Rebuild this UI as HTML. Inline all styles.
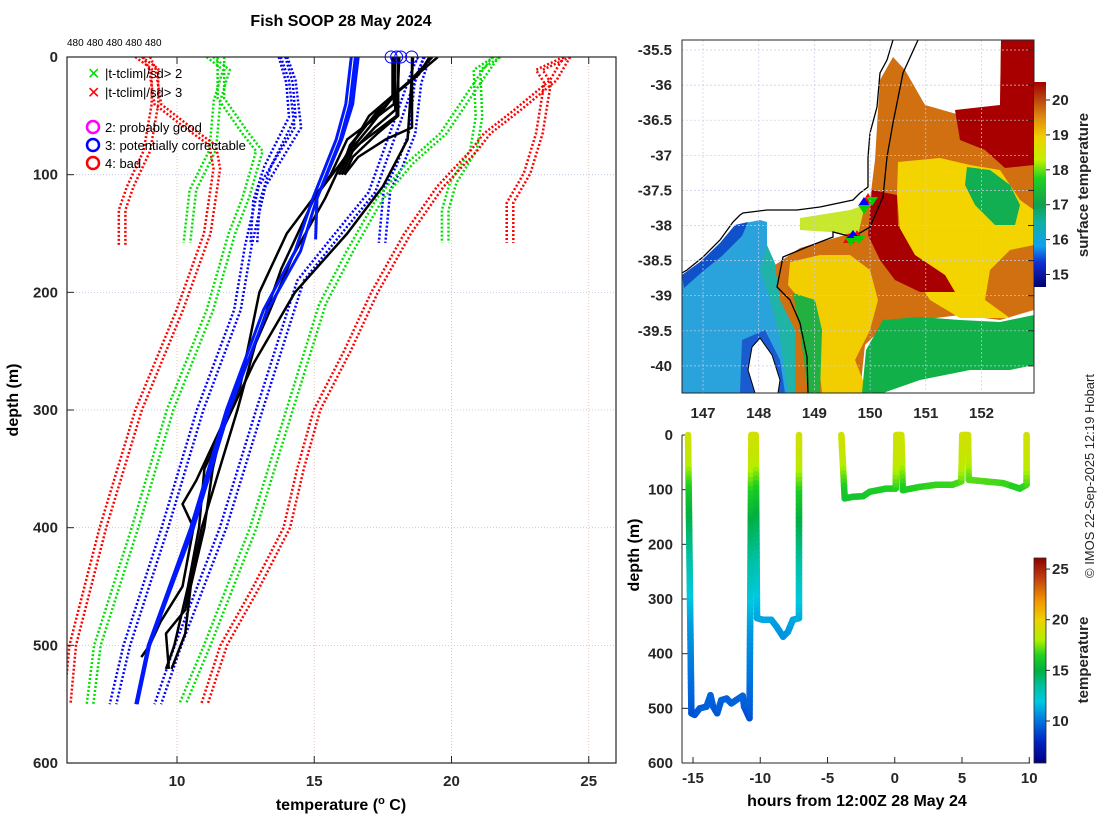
<!DOCTYPE html>
<html><head><meta charset="utf-8"><title>Fish SOOP 28 May 2024</title>
<style>
html,body{margin:0;padding:0;background:#fff;}
svg{display:block;font-family:"Liberation Sans","DejaVu Sans",sans-serif;}
.tk{font-size:15px;font-weight:bold;fill:#262626;}
.ttl{font-size:16px;font-weight:bold;fill:#000;}
</style></head>
<body>
<svg id="fig" width="1100" height="820" viewBox="0 0 1100 820" xmlns="http://www.w3.org/2000/svg">
<defs>
<clipPath id="clipMain"><rect x="67" y="57" width="549" height="706"/></clipPath>
<clipPath id="clipMap"><rect x="682" y="40" width="352" height="353"/></clipPath>
<linearGradient id="cbMap" x1="0" y1="1" x2="0" y2="0">
<stop offset="0" stop-color="#000070"/><stop offset="0.12" stop-color="#1030d0"/><stop offset="0.2" stop-color="#10a0f0"/><stop offset="0.32" stop-color="#10b0a0"/><stop offset="0.4" stop-color="#10a050"/><stop offset="0.53" stop-color="#20d020"/><stop offset="0.62" stop-color="#c0f000"/><stop offset="0.73" stop-color="#f0d000"/><stop offset="0.82" stop-color="#e09010"/><stop offset="0.9" stop-color="#c05010"/><stop offset="1" stop-color="#a00000"/>
</linearGradient>
<linearGradient id="cbTrack" x1="0" y1="1" x2="0" y2="0">
<stop offset="0" stop-color="#000080"/><stop offset="0.1" stop-color="#0020c0"/><stop offset="0.2" stop-color="#0070e0"/><stop offset="0.3" stop-color="#00c8e0"/><stop offset="0.375" stop-color="#00c0a0"/><stop offset="0.45" stop-color="#00b040"/><stop offset="0.525" stop-color="#20d020"/><stop offset="0.6" stop-color="#b0f000"/><stop offset="0.7" stop-color="#f0d000"/><stop offset="0.8" stop-color="#f09000"/><stop offset="0.9" stop-color="#c04010"/><stop offset="1" stop-color="#900000"/>
</linearGradient>
</defs>

<text class="ttl" x="341" y="26" text-anchor="middle">Fish SOOP 28 May 2024</text>
<text x="67" y="46" font-size="10" fill="#000">480 480 480 480 480</text>

<g id="mainGrid"></g>
<g id="mainPlot" clip-path="url(#clipMain)"></g>
<g id="mainAxes"></g>

<g font-size="13" fill="#000">
<text x="87" y="79" fill="#00e000" font-size="16" font-weight="bold">✕</text>
<text x="105" y="78">|t-tclim|/sd&gt; 2</text>
<text x="87" y="98" fill="#ff0000" font-size="16" font-weight="bold">✕</text>
<text x="105" y="97">|t-tclim|/sd&gt; 3</text>
<circle cx="93" cy="127" r="6" fill="none" stroke="#ff00ff" stroke-width="2.5"/>
<text x="105" y="132">2: probably good</text>
<circle cx="93" cy="145" r="6" fill="none" stroke="#0000ff" stroke-width="2.5"/>
<text x="105" y="150">3: potentially correctable</text>
<circle cx="93" cy="163" r="6" fill="none" stroke="#ff0000" stroke-width="2.5"/>
<text x="105" y="168">4: bad</text>
</g>

<text class="ttl" transform="translate(18,400) rotate(-90)" text-anchor="middle">depth (m)</text>
<text class="ttl" x="341" y="810" text-anchor="middle">temperature (<tspan font-size="11" dy="-6">o</tspan><tspan dy="6"> C)</tspan></text>

<!-- MAP -->
<g clip-path="url(#clipMap)">
<rect x="682" y="40" width="352" height="353" fill="#fff"/>
<polygon fill="#2aa2dc" points="682,275 700,262 720,243 735,225 760,220 767,222 767,260 775,270 790,300 800,330 805,393 682,393"/>
<polygon fill="#20b4a8" points="767,245 778,270 792,300 805,393 788,393 780,340 770,300 760,270"/>
<polygon fill="#1050c8" points="682,275 700,262 720,243 735,225 748,222 742,236 722,256 702,272 684,288"/>
<polygon fill="#1a5cd0" points="742,340 765,330 780,360 785,393 740,393"/>
<polygon fill="#fff" stroke="#000" stroke-width="1" points="752,347 760,338 772,355 780,380 778,393 755,393 748,370"/>
<polygon fill="#d07010" points="893,57 905,70 925,105 960,115 1000,108 1001,40 1034,40 1034,310 1000,320 960,315 920,320 890,320 880,330 865,345 860,393 795,393 795,330 780,300 775,265 800,248 845,235 860,215 870,200 875,160 878,110 880,80"/>
<polygon fill="#f4d400" points="898,162 940,158 970,165 1000,170 1020,200 1034,210 1034,245 1010,250 990,270 985,300 1010,318 960,318 930,300 910,270 900,230 897,195"/>
<polygon fill="#f2ce00" points="790,262 820,255 850,255 870,270 878,300 870,330 855,360 868,393 822,393 815,330 800,300 788,285"/>
<polygon fill="#a80000" points="1001,40 1034,40 1034,165 1005,168 985,150 960,140 955,110 1000,105"/>
<polygon fill="#a80000" points="872,190 897,195 898,225 915,255 945,275 955,292 920,292 895,280 880,260 868,235"/>
<polygon fill="#12ae52" points="967,167 990,170 1010,185 1020,205 1015,225 995,225 975,205 965,185"/>
<polygon fill="#12b048" points="883,320 920,317 960,320 1000,322 1034,315 1034,365 1010,370 970,370 920,380 883,393 862,393 866,350"/>
<polygon fill="#22b040" points="793,293 815,300 822,330 820,393 808,393 800,330"/>
<polygon fill="#c8e830" points="800,218 850,210 865,205 858,235 830,232 800,230"/>
<polygon fill="#fff" points="950,378 1000,372 1034,374 1034,393 940,393"/>
<polyline fill="none" stroke="#000" stroke-width="1.3" points="893,40 887,60 880,73 877,107 870,133 868,157 868,187 860,193 853,200 820,207 797,210 767,210 743,213 740,215 733,222 720,240 703,257 687,270 682,273"/>
<polyline fill="none" stroke="#000" stroke-width="1.3" points="918,40 903,73 893,123 887,157 883,197 870,227 853,237 833,232 833,237 807,247 783,257 777,287 790,300 800,323 807,357 808,393"/>
<g>
<polygon fill="#ff0000" points="862,203 868,193 874,203"/><polygon fill="#0000ff" points="858,206 864,197 870,206"/><polygon fill="#00d000" points="858,205 864,214 870,205"/><polygon fill="#00d000" points="866,197 872,206 878,197"/>
<polygon fill="#ff0000" points="843,243 849,233 855,243"/><polygon fill="#ff0000" points="851,240 857,230 863,240"/><polygon fill="#0000ff" points="847,238 853,230 859,238"/><polygon fill="#00d000" points="845,238 851,246 857,238"/><polygon fill="#00d000" points="853,236 859,244 865,236"/>
</g>
</g>
<g id="mapAxes"></g>
<rect x="1034" y="82" width="12" height="205" fill="url(#cbMap)"/>
<g id="mapCb"></g>
<text class="tk" transform="translate(1088,185) rotate(-90)" text-anchor="middle">surface temperature</text>

<!-- TRACK -->
<g id="trackAxes"></g>
<g id="trackPlot"></g>
<rect x="1034" y="558" width="12" height="205" fill="url(#cbTrack)"/>
<g id="trackCb"></g>
<text class="tk" transform="translate(1088,660) rotate(-90)" text-anchor="middle">temperature</text>
<text class="ttl" transform="translate(639,555) rotate(-90)" text-anchor="middle">depth (m)</text>
<text class="ttl" x="857" y="806" text-anchor="middle">hours from 12:00Z 28 May 24</text>
<text font-size="13" fill="#262626" transform="translate(1094,578) rotate(-90)">© IMOS 22-Sep-2025 12:19 Hobart</text>
</svg>
<script>
// ---------- main chart data ----------
const tempTicks = [10, 15, 20, 25];
const depthTicks = [0, 100, 200, 300, 400, 500, 600];
const clShDepRedL = [0,10,40,80,110,130,160];
const clShTmpRedL = [8.6,9.2,9.2,8.9,8.3,8.0,8.0];
const clShDepGrnL = [0,11,37,79,113,158];
const clShTmpGrnL = [11.2,11.8,11.46,11.3,10.58,10.36];
const clShDepBluL = [0,22,51,93,122,158];
const clShTmpBluL = [13.83,14.1,14.2,13.3,12.9,12.8];
const clShDepBluR = [0,22,65,93,113,158];
const clShTmpBluR = [19.1,18.78,18.56,18.1,17.65,17.47];
const clShDepGrnR = [0,11,51,79,107,130,158];
const clShTmpGrnR = [21.66,20.93,21.0,20.8,20.06,19.77,19.77];
const clShDepRedR = [0,11,22,65,99,124,158];
const clShTmpRedR = [24.2,23.2,23.5,23.2,22.75,22.13,22.13];
const clDpDepRedL = [0,10,40,60,75,95,150,215,300,400,500,550];
const clDpTmpRedL = [8.9,9.1,9.3,10.4,11.3,11.45,11.1,10.1,8.6,7.3,6.2,6.0];
const clDpDepGrnL = [0,35,65,80,120,150,215,300,400,500,550];
const clDpTmpGrnL = [11.6,11.6,12.5,13.0,12.5,12.0,11.2,9.75,8.47,7.1,6.83];
const clDpDepBluL = [0,20,60,110,160,215,300,400,500,550];
const clDpTmpBluL = [13.9,14.2,14.4,13.1,12.6,12.2,10.84,9.56,8.17,7.67];
const clDpDepBluR = [0,10,50,115,155,190,300,400,500,550];
const clDpTmpBluR = [18.9,18.7,18.1,17.1,15.7,14.5,13.0,11.68,10.04,9.3];
const clDpDepGrnR = [0,20,65,90,120,165,210,300,400,500,550];
const clDpTmpGrnR = [21.6,21.0,19.7,18.5,17.4,16.3,15.3,14.1,12.78,11.1,10.2];
const clDpDepRedR = [0,20,45,65,80,110,150,200,250,300,350,400,450,500,550];
const clDpTmpRedR = [24.2,23.7,22.4,21.3,20.8,19.6,18.4,17.2,16.2,15.1,14.5,14.0,12.9,11.7,11.0];
const obsDep1 = [0,35,55,75,95];            const obsTmp1 = [17.85,17.85,17.0,16.3,16.0];
const obsDep2 = [0,45,60,80,100];           const obsTmp2 = [17.95,17.95,17.2,16.4,16.0];
const obsDep3 = [0,50,65,85,100];           const obsTmp3 = [18.06,18.06,17.3,16.4,16.1];
const obsDep4 = [0,60,70,85,100];           const obsTmp4 = [18.56,18.56,17.6,16.6,16.1];
const obsDep5 = [0,10,30,60,80,100];        const obsTmp5 = [19.5,19.0,18.0,17.0,16.3,15.9];
const obsDep6 = [0,15,40,70,95];            const obsTmp6 = [19.2,18.8,17.5,16.5,16.0];
const obsDep7 = [0,20,50,90,120,170,220,300,350,400,450,490,520];
const obsTmp7 = [19.3,18.5,17.0,16.0,15.4,14.2,13.3,11.8,11.3,11.0,10.5,10.3,9.8];
const obsDep8 = [0,70,110,150,200,260,300,350,400,450,500,520];
const obsTmp8 = [18.6,18.4,17.5,16.2,14.3,12.8,12.0,11.0,10.8,10.4,9.9,9.6];
const obsDep9 = [0,40,70,100,150,200,280,330,360,380,400,450,480,500,510];
const obsTmp9 = [17.9,17.9,16.2,15.6,14.0,13.0,12.3,11.3,10.7,10.2,10.6,10.2,9.4,9.0,8.7];
const obsDep10 = [0,50,80,120,180,240,300,400,470,490,520];
const obsTmp10 = [18.1,18.0,16.3,15.0,13.8,12.9,12.2,10.9,10.3,9.6,9.7];
const bluDep1 = [0,40,70,120,165,215,300,400,500,550];
const bluTmp1 = [16.5,16.3,15.95,15.1,14.5,13.3,11.9,10.6,9.0,8.55];
const bluDep2 = [0,40,70,120,165,215,300,400,500,550];
const bluTmp2 = [16.35,16.15,15.8,14.95,14.3,13.15,11.8,10.5,8.95,8.5];
const bluDep3 = [0,40,70,120,155];
const bluTmp3 = [16.6,16.4,16.0,15.1,15.05];
const flagTemps = [17.8, 18.0, 18.15, 18.55];

// ---------- track data ----------
const trackHours = [-15.37,-15.12,-14.88,-14.5,-14.0,-13.7,-13.5,-13.2,-12.9,-12.5,-12.15,-11.8,-11.3,-11.2,-10.8,-10.66,-10.34,-10.24,-9.8,-9.18,-8.8,-8.3,-7.94,-7.57,-7.12,-7.12,null,-3.97,-3.72,-3.1,-2.36,-1.87,-0.63,0.07,0.12,0.49,0.6,1.85,3.1,4.3,4.95,5.02,5.45,5.5,6.8,8.05,9.3,9.8,9.8];
const trackDepths = [0,509,512,500,497,476,497,509,485,482,491,485,477,497,518,0,0,335,338,338,350,369,360,338,335,0,null,0,116,113,112,104,98,98,0,0,101,95,91,91,85,0,0,82,85,88,98,91,0];
const profDepth = [0,50,100,150,200,300,350,500,520];
const profTemp = [19,18.5,16.3,15,14,12,11,9.5,9];
const hourTicks = [-15,-10,-5,0,5,10];
const trackDepthTicks = [0,100,200,300,400,500,600];
const trackCbTicks = [10,15,20,25];
const mapCbTicks = [15,16,17,18,19,20];
const lonTicks = [147,148,149,150,151,152];
const latTicks = [-35.5,-36,-36.5,-37,-37.5,-38,-38.5,-39,-39.5,-40];

const NS = "http://www.w3.org/2000/svg";
function mk(tag, attrs, parent){ const e=document.createElementNS(NS,tag); for(const k in attrs) e.setAttribute(k,attrs[k]); parent.appendChild(e); return e; }
const xT = t => 67.2 + (t-6)*27.45;
const yD = d => 57 + d*1.1767;
const xH = h => 693 + (h+15)*13.45;
const yTD = d => 435 + d*0.5467;
const xLon = l => 703 + (l-147)*55.7;
const yLat = l => 50 + (-35.5-l)*70.2;
const yMapCb = t => 100 + (20-t)*34.9;
const yTrCb = t => 721 - (t-10)*10.13;

const grid = document.getElementById('mainGrid');
tempTicks.forEach(t=>{ const l=mk('line',{x1:xT(t),x2:xT(t),y1:57,y2:763,stroke:'#e0b8a8','stroke-width':0.8,'stroke-dasharray':'1 2'},grid);

 });
depthTicks.slice(1,-1).forEach(d=>{ const l=mk('line',{x1:67,x2:616,y1:yD(d),y2:yD(d),stroke:'#b0c0e8','stroke-width':0.8,'stroke-dasharray':'1 2'},grid);

 });

const plot = document.getElementById('mainPlot');
function line(dep,tmp,color,w,dash,off,name){
  const pts = dep.map((d,i)=>xT(tmp[i]+off).toFixed(1)+','+yD(d).toFixed(1)).join(' ');
  const a={points:pts,fill:'none',stroke:color,'stroke-width':w,'stroke-linejoin':'round'};
  if(dash) a['stroke-dasharray']=dash;
  const p=mk('polyline',a,plot);
  
  
}
const clims = [
 [clShDepRedL,clShTmpRedL,'#ff0000'],[clShDepGrnL,clShTmpGrnL,'#00e000'],[clShDepBluL,clShTmpBluL,'#0000ff'],
 [clShDepBluR,clShTmpBluR,'#0000ff'],[clShDepGrnR,clShTmpGrnR,'#00e000'],[clShDepRedR,clShTmpRedR,'#ff0000'],
 [clDpDepRedL,clDpTmpRedL,'#ff0000'],[clDpDepGrnL,clDpTmpGrnL,'#00e000'],[clDpDepBluL,clDpTmpBluL,'#0000ff'],
 [clDpDepBluR,clDpTmpBluR,'#0000ff'],[clDpDepGrnR,clDpTmpGrnR,'#00e000'],[clDpDepRedR,clDpTmpRedR,'#ff0000']];
clims.forEach(c=>{ line(c[0],c[1],c[2],2.5,'2 2',-0.12,'climatology-line'); line(c[0],c[1],c[2],2.5,'2 2',0.12,'climatology-line'); });
[[obsDep1,obsTmp1],[obsDep2,obsTmp2],[obsDep3,obsTmp3],[obsDep4,obsTmp4],[obsDep5,obsTmp5],[obsDep6,obsTmp6],[obsDep7,obsTmp7],[obsDep8,obsTmp8],[obsDep9,obsTmp9],[obsDep10,obsTmp10]]
 .forEach(o=>line(o[0],o[1],'#000',2.5,null,0,'observed-profile'));
[[bluDep1,bluTmp1],[bluDep2,bluTmp2],[bluDep3,bluTmp3]].forEach(o=>line(o[0],o[1],'#0018ff',3,null,0,'flagged-profile'));

const ax = document.getElementById('mainAxes');
mk('rect',{x:67,y:57,width:549,height:706,fill:'none',stroke:'#262626','stroke-width':1.2},ax);
flagTemps.forEach(t=>{ const c=mk('circle',{cx:xT(t),cy:57,r:6,fill:'none',stroke:'#0000ff','stroke-width':1},ax);

 });
tempTicks.forEach(t=>{ mk('line',{x1:xT(t),x2:xT(t),y1:763,y2:756,stroke:'#262626'},ax); mk('line',{x1:xT(t),x2:xT(t),y1:57,y2:64,stroke:'#262626'},ax);
 const tx=mk('text',{x:xT(t),y:786,'text-anchor':'middle',class:'tk'},ax); tx.textContent=t;
 
  });
depthTicks.forEach(d=>{ mk('line',{x1:67,x2:74,y1:yD(d),y2:yD(d),stroke:'#262626'},ax);
 const tx=mk('text',{x:58,y:yD(d)+5,'text-anchor':'end',class:'tk'},ax); tx.textContent=d;
 
  });

const ma = document.getElementById('mapAxes');
lonTicks.forEach(l=>{ mk('line',{x1:xLon(l),x2:xLon(l),y1:40,y2:393,stroke:'#c8cce8','stroke-width':0.7,'stroke-dasharray':'2 2'},ma);
 const tx=mk('text',{x:xLon(l),y:418,'text-anchor':'middle',class:'tk'},ma); tx.textContent=l;
 
  });
latTicks.forEach(l=>{ mk('line',{x1:682,x2:1034,y1:yLat(l),y2:yLat(l),stroke:'#c8cce8','stroke-width':0.7,'stroke-dasharray':'2 2'},ma);
 mk('line',{x1:1028,x2:1034,y1:yLat(l),y2:yLat(l),stroke:'#262626'},ma);
 const tx=mk('text',{x:672,y:yLat(l)+5,'text-anchor':'end',class:'tk'},ma); tx.textContent=l;
 
  });
mk('rect',{x:682,y:40,width:352,height:353,fill:'none',stroke:'#262626','stroke-width':1},ma);
const mcb=document.getElementById('mapCb');
mapCbTicks.forEach(t=>{ mk('line',{x1:1046,x2:1050,y1:yMapCb(t),y2:yMapCb(t),stroke:'#262626'},mcb);
 const tx=mk('text',{x:1052,y:yMapCb(t)+5,class:'tk'},mcb); tx.textContent=t;
 
  });

const ta=document.getElementById('trackAxes');
mk('line',{x1:682,x2:682,y1:435,y2:763,stroke:'#262626'},ta);
mk('line',{x1:682,x2:1030,y1:763,y2:763,stroke:'#262626'},ta);
hourTicks.forEach(h=>{ mk('line',{x1:xH(h),x2:xH(h),y1:763,y2:757,stroke:'#262626'},ta);
 const tx=mk('text',{x:xH(h),y:783,'text-anchor':'middle',class:'tk'},ta); tx.textContent=h;
 
  });
trackDepthTicks.forEach(d=>{ mk('line',{x1:682,x2:688,y1:yTD(d),y2:yTD(d),stroke:'#262626'},ta);
 const tx=mk('text',{x:673,y:yTD(d)+5,'text-anchor':'end',class:'tk'},ta); tx.textContent=d;
 
  });
const tcb=document.getElementById('trackCb');
mk('rect',{x:1034,y:558,width:12,height:205,fill:'none',stroke:'#262626','stroke-width':0.8},tcb);
trackCbTicks.forEach(t=>{ mk('line',{x1:1046,x2:1050,y1:yTrCb(t),y2:yTrCb(t),stroke:'#262626'},tcb);
 const tx=mk('text',{x:1052,y:yTrCb(t)+5,class:'tk'},tcb); tx.textContent=t;
 
  });

const stops=[[6,[0,0,128]],[8,[0,32,192]],[10,[0,112,224]],[12,[0,200,224]],[13.5,[0,192,160]],[15,[0,176,64]],[16.5,[32,208,32]],[18,[176,240,0]],[20,[240,208,0]],[22,[240,144,0]],[24,[192,64,16]],[26,[144,0,0]]];
function cmap(t){ for(let i=0;i<stops.length-1;i++){ const a=stops[i],b=stops[i+1]; if(t<=b[0]||i==stops.length-2){ const f=Math.max(0,Math.min(1,(t-a[0])/(b[0]-a[0]))); return 'rgb('+a[1].map((v,k)=>Math.round(v+(b[1][k]-v)*f)).join(',')+')'; } } }
function tAtDepth(d){ for(let i=0;i<profDepth.length-1;i++){ if(d<=profDepth[i+1]){ const f=(d-profDepth[i])/(profDepth[i+1]-profDepth[i]); return profTemp[i]+(profTemp[i+1]-profTemp[i])*f; } } return profTemp[profTemp.length-1]; }
const tp=document.getElementById('trackPlot');
for(let i=0;i<trackHours.length-1;i++){
  const h0=trackHours[i],h1=trackHours[i+1],d0=trackDepths[i],d1=trackDepths[i+1];
  if(h0===null||h1===null) continue;
  const n=Math.max(2,Math.ceil(Math.abs(d1-d0)/8));
  for(let k=0;k<n;k++){
    const fa=k/n, fb=(k+1)/n;
    const ha=h0+(h1-h0)*fa, hb=h0+(h1-h0)*fb, da=d0+(d1-d0)*fa, db=d0+(d1-d0)*fb;
    const s=mk('line',{x1:xH(ha),y1:yTD(da),x2:xH(hb),y2:yTD(db),stroke:cmap(tAtDepth((da+db)/2)),'stroke-width':6.5,'stroke-linecap':'round'},tp);
    
    
  }
}
</script>
</body></html>
